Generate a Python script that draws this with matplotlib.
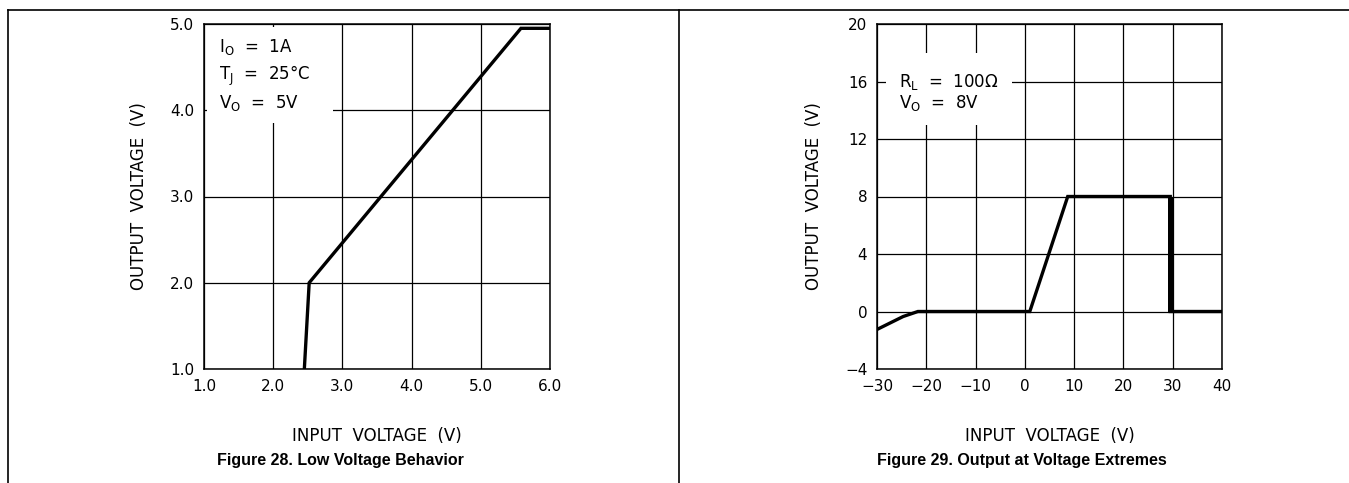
import matplotlib
matplotlib.use("Agg")
import matplotlib.pyplot as plt
from matplotlib.patches import Rectangle
from matplotlib.lines import Line2D

plt.rcParams.update({
    "font.family": "DejaVu Sans",
    "mathtext.fontset": "dejavusans",
    "font.size": 11,
})

# Figure 28: low voltage behaviour
vin_low = [2.45, 2.52, 5.58, 6.0]
vout_low = [1.0, 2.0, 4.95, 4.95]
xticks_low = [1.0, 2.0, 3.0, 4.0, 5.0, 6.0]
yticks_low = [1.0, 2.0, 3.0, 4.0, 5.0]
xlabels_low = ["1.0", "2.0", "3.0", "4.0", "5.0", "6.0"]
ylabels_low = ["1.0", "2.0", "3.0", "4.0", "5.0"]

# Figure 29: output at voltage extremes
vin_ext = [-30, -24.7, -21.7, 1.0, 8.7, 29.5, 29.5, 40]
vout_ext = [-1.25, -0.35, 0.0, 0.0, 8.0, 8.0, 0.0, 0.0]
xticks_ext = [-30, -20, -10, 0, 10, 20, 30, 40]
yticks_ext = [-4, 0, 4, 8, 12, 16, 20]
xlabels_ext = ["\u221230", "\u221220", "\u221210", "0", "10", "20", "30", "40"]
ylabels_ext = ["\u22124", "0", "4", "8", "12", "16", "20"]

W, H = 1349, 483
fig = plt.figure(figsize=(W / 100, H / 100), dpi=100)

# page frame: left edge, top rule, centre divider
fig.add_artist(Line2D([8 / W, 8 / W], [0, 1 - 10 / H], color="black", lw=1.2))
fig.add_artist(Line2D([8 / W, 1], [1 - 10 / H, 1 - 10 / H], color="black", lw=1.2))
fig.add_artist(Line2D([679 / W, 679 / W], [0, 1 - 10 / H], color="black", lw=1.2))


def setup(ax, xlim, ylim, xt, yt, xl, yl):
    ax.set_xlim(xlim)
    ax.set_ylim(ylim)
    ax.set_xticks(xt)
    ax.set_xticklabels(xl)
    ax.set_yticks(yt)
    ax.set_yticklabels(yl)
    ax.tick_params(length=0, pad=7, labelsize=11)
    ax.set_axisbelow(True)
    ax.grid(True, color="black", lw=0.9)
    for s in ax.spines.values():
        s.set_linewidth(1.1)
    ax.set_xlabel("INPUT  VOLTAGE  (V)", fontsize=12, labelpad=24)
    ax.set_ylabel("OUTPUT  VOLTAGE  (V)", fontsize=12, labelpad=16)


ax1 = fig.add_axes([204 / W, 1 - 369 / H, 346 / W, 345 / H])
setup(ax1, (1.0, 6.0), (1.0, 5.0), xticks_low, yticks_low, xlabels_low, ylabels_low)
ax1.add_patch(Rectangle((1.04, 3.85), 1.83, 1.12, facecolor="white", edgecolor="none", zorder=1))
ax1.plot(vin_low, vout_low, color="black", lw=2.4, solid_joinstyle="miter", zorder=3)
ax1.text(1.22, 4.73, r"I$_{\rm O}$  =  1A", fontsize=12, va="center", zorder=4)
ax1.text(1.22, 4.40, r"T$_{\rm J}$  =  25°C", fontsize=12, va="center", zorder=4)
ax1.text(1.22, 4.08, r"V$_{\rm O}$  =  5V", fontsize=12, va="center", zorder=4)

ax2 = fig.add_axes([877 / W, 1 - 369 / H, 345 / W, 345 / H])
setup(ax2, (-30, 40), (-4, 20), xticks_ext, yticks_ext, xlabels_ext, ylabels_ext)
ax2.add_patch(Rectangle((-28.2, 12.97), 25.6, 5.0, facecolor="white", edgecolor="none", zorder=1))
ax2.plot(vin_ext, vout_ext, color="black", lw=2.4, solid_joinstyle="miter", zorder=3)
ax2.plot([29.5, 29.5], [0, 8], color="black", lw=3.6, solid_capstyle="butt", zorder=3)
ax2.text(-25.6, 16.0, r"R$_{\rm L}$  =  100$\Omega$", fontsize=12, va="center", zorder=4)
ax2.text(-25.6, 14.5, r"V$_{\rm O}$  =  8V", fontsize=12, va="center", zorder=4)

title_y = 1 - 460 / H
fig.text(340 / W, title_y, "Figure 28. Low Voltage Behavior",
         family="Liberation Sans", weight="bold", fontsize=11.5, ha="center", va="center")
fig.text(1022 / W, title_y, "Figure 29. Output at Voltage Extremes",
         family="Liberation Sans", weight="bold", fontsize=11.5, ha="center", va="center")

fig.savefig("out.png", dpi=100, facecolor="white")
